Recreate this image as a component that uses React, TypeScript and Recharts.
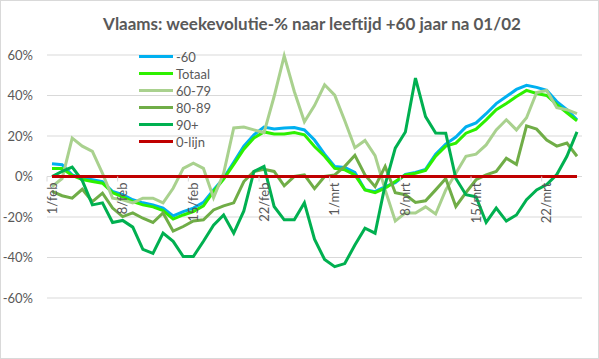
import { LineChart, Line, XAxis, YAxis, CartesianGrid, Legend } from 'recharts';

const dates = [
  '1/feb', '2/feb', '3/feb', '4/feb', '5/feb', '6/feb', '7/feb', '8/feb', '9/feb', '10/feb',
  '11/feb', '12/feb', '13/feb', '14/feb', '15/feb', '16/feb', '17/feb', '18/feb', '19/feb', '20/feb',
  '21/feb', '22/feb', '23/feb', '24/feb', '25/feb', '26/feb', '27/feb', '28/feb',
  '1/mrt', '2/mrt', '3/mrt', '4/mrt', '5/mrt', '6/mrt', '7/mrt', '8/mrt', '9/mrt', '10/mrt',
  '11/mrt', '12/mrt', '13/mrt', '14/mrt', '15/mrt', '16/mrt', '17/mrt', '18/mrt', '19/mrt', '20/mrt',
  '21/mrt', '22/mrt', '23/mrt', '24/mrt', '25/mrt',
];

const tickLabels = ['1/feb', '8/feb', '15/feb', '22/feb', '1/mrt', '8/mrt', '15/mrt', '22/mrt'];
const yTicks = [-60, -40, -20, 0, 20, 40, 60];

// weekevolutie in %
const onder60 = [
  6.3, 5.8, 0.8, -0.8, -1.6, -2.5, -7.4, -9, -11.5, -13, -14, -15.6, -19.5, -17.3, -15.6, -12.8,
  -6.6, -0.8, 7, 15, 20.6, 24.4, 23.5, 24, 24.2, 23, 18, 11, 5, 4.5, 2, -6.5, -7.5, -5, -3, 1,
  2, 3.5, 11, 16, 19.5, 24.5, 26.5, 31, 36, 39.5, 43, 45, 44, 42.5, 37, 33, 28,
];
const totaal = [
  4, 4, 0.5, -1.5, -2.5, -3.3, -8, -10, -12.4, -14, -15, -16.8, -21, -19, -17.3, -14.5,
  -7.4, -1.3, 6, 13.5, 19, 22, 21, 21, 21.7, 20.6, 14.8, 10, 4, 3.3, 0.8, -6.6, -8, -5.8, -2.5, 0.8,
  1.6, 3, 10, 15, 16.5, 21.4, 23.4, 28, 33, 36, 39.5, 42.5, 41, 40, 35.5, 31.5, 27.5,
];
const l60_79 = [
  -5, -1, 19, 15, 12.4, 1.6, -10.7, -11.5, -13, -10.7, -10.7, -13, -5.8, 4, 6.6, 4,
  -10.5, 1.6, 24, 24.4, 23, 21.7, 39.5, 59.6, 42, 27, 35, 45.3, 40.2, 27.5, 14.2, 17.8, 10.3, -6.6, -22, -18,
  -18, -15, -18.5, -6.6, 1.6, 10, 11, 15.6, 23, 28, 23, 29, 41.5, 42.5, 34, 33, 31,
];
const l80_89 = [
  -7.4, -9.5, -10.7, -6.3, -12.4, -8.2, -15.6, -19.8, -18, -20.6, -22.7, -18, -27, -24.7, -22, -21.4,
  -16.5, -14.5, -13, -2.5, 2.5, 3.6, 2.5, -4.6, 0, 0.8, -6, 0, 0.8, 5, 10.5, 0.8, -5, 5, -8, -9,
  -12.8, -12, -6.6, -1, -14.8, -8, -1.6, 0.8, 2.5, 9, 6, 25, 23.4, 18, 15, 16.5, 10,
];
const l90plus = [
  0, 2.5, 4.6, -2, -14, -13, -22.7, -21.7, -25, -36, -38, -28, -32, -39.5, -39.5, -32,
  -24, -19, -28, -17, 2.5, 5, -14.8, -21.4, -21.4, -13, -31, -41, -44.5, -43, -33.8, -25.5, -28, -4, 14, 22,
  48.6, 29.6, 21.5, 21.4, -1, -9, -10, -22.7, -15.6, -22, -19, -11.5, -6.6, -4, 1, 10, 22,
];

const series = [
  { key: 'onder60', name: '-60', color: '#00B0F0' },
  { key: 'totaal', name: 'Totaal', color: '#2EF000' },
  { key: 'l60_79', name: '60-79', color: '#A9D18E' },
  { key: 'l80_89', name: '80-89', color: '#70AD47' },
  { key: 'l90plus', name: '90+', color: '#00B050' },
  { key: 'nul', name: '0-lijn', color: '#C00000' },
];

const data = dates.map((date, i) => ({
  date,
  onder60: onder60[i],
  totaal: totaal[i],
  l60_79: l60_79[i],
  l80_89: l80_89[i],
  l90plus: l90plus[i],
  nul: 0,
}));

const W = 599;
const H = 359;
const TOP = 55;
const BOTTOM = 61;
const Y_MIN = -60;
const Y_MAX = 60;
const ZERO_Y = TOP + ((H - TOP - BOTTOM) * Y_MAX) / (Y_MAX - Y_MIN);
const FONT = 'Lato, "Liberation Sans", sans-serif';
const GREY = '#595959';

const DateTick = (props: any) => {
  const { x, payload } = props;
  const y = ZERO_Y + 6;
  return (
    <g>
      <line x1={x - 5} x2={x - 5} y1={ZERO_Y} y2={ZERO_Y + 5} stroke="#d9d9d9" />
      <text
        x={x}
        y={y}
        dy="0.35em"
        textAnchor="end"
        transform={`rotate(-90, ${x}, ${y})`}
        fill={GREY}
        fontSize={13}
        fontFamily={FONT}
      >
        {payload.value}
      </text>
    </g>
  );
};

const LegendBox = () => (
  <div style={{ fontFamily: FONT, fontSize: 13, color: GREY }}>
    {series.map((s) => (
      <div key={s.key} style={{ display: 'flex', alignItems: 'center', height: 17 }}>
        <span style={{ width: 34, height: 3, background: s.color, marginRight: 3 }} />
        <span>{s.name}</span>
      </div>
    ))}
  </div>
);

export default function App() {
  return (
    <div
      style={{
        position: 'absolute',
        left: 0,
        top: 0,
        width: W,
        height: H,
        boxSizing: 'border-box',
        border: '1px solid #d9d9d9',
        background: '#fff',
      }}
    >
      <div
        style={{
          position: 'absolute',
          top: 12,
          left: 0,
          width: 622,
          textAlign: 'center',
          fontFamily: FONT,
          fontWeight: 'bold',
          fontSize: 17,
          color: GREY,
        }}
      >
        Vlaams: weekevolutie-% naar leeftijd +60 jaar na 01/02
      </div>
      <div style={{ position: 'absolute', left: -1, top: -1 }}>
        <LineChart width={W} height={H} data={data} margin={{ top: TOP, right: 17, bottom: 0, left: 0 }}>
          <CartesianGrid vertical={false} stroke="#d9d9d9" />
          <XAxis
            dataKey="date"
            ticks={tickLabels}
            interval={0}
            height={BOTTOM}
            axisLine={false}
            tickLine={false}
            padding={{ left: 5, right: 5 }}
            tick={<DateTick />}
          />
          <YAxis
            domain={[Y_MIN, Y_MAX]}
            ticks={yTicks}
            width={47}
            axisLine={false}
            tickLine={false}
            tickMargin={8}
            tickFormatter={(v: number) => `${v}%`}
            tick={{ fill: GREY, fontSize: 13, fontFamily: FONT }}
          />
          <Legend
            layout="vertical"
            align="center"
            verticalAlign="middle"
            content={<LegendBox />}
            wrapperStyle={{ left: 139, top: 48, width: 80 }}
          />
          {series.map((s) => (
            <Line
              key={s.key}
              dataKey={s.key}
              name={s.name}
              stroke={s.color}
              strokeWidth={3}
              dot={false}
              activeDot={false}
              type="linear"
              isAnimationActive={false}
            />
          ))}
        </LineChart>
      </div>
    </div>
  );
}
